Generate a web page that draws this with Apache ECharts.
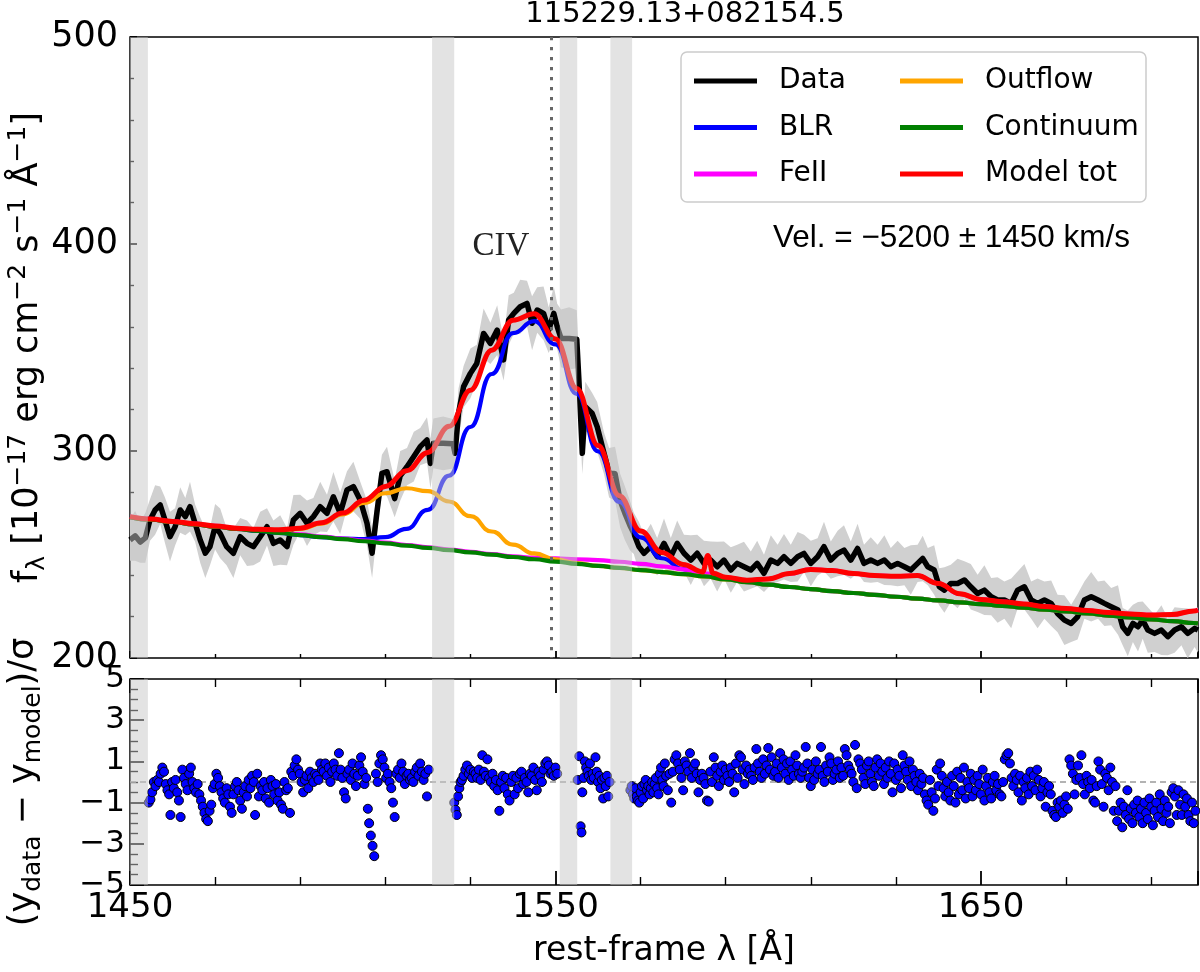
<!DOCTYPE html>
<html><head><meta charset="utf-8">
<script src="https://cdn.jsdelivr.net/npm/echarts@6/dist/echarts.min.js"></script>
<style>html,body{margin:0;padding:0;background:#fff}#c{width:1200px;height:972px}</style>
</head><body><div id="c"></div><script>
// ---------------- data ----------------
const xRange = [1450, 1701];
const xTickLabels = [1450, 1550, 1650];
const fluxRange = [200, 500];
const resRange = [-5, 5];
const maskBands = [[1450, 1454.2], [1521.0, 1526.2], [1551.0, 1555.1], [1562.9, 1568.0]];
const civLine = 1549.06;
const titleText = '115229.13+082154.5';
const velText = 'Vel. = \u22125200 \u00b1 1450 km/s';

// observed spectrum [wavelength, flux, error]
const specData = [
[1450.0,257,10],[1451.2,259,12],[1452.4,256,10],[1453.6,258,12],[1454.7,266.7,10],[1455.9,271.5,12],[1457.1,273.9,9],[1458.2,266.7,11],[1459.4,258.6,12],[1460.6,263.4,9],[1461.8,271.5,11],[1463.0,268.3,9],[1464.1,273.1,12],[1465.3,265.1,9],[1466.5,257.0,11],[1467.7,250.6,12],[1468.8,253.8,9],[1470.0,263.4,11],[1471.2,260.2,12],[1472.7,253.8,9],[1474.3,250.6,12],[1475.9,258.6,9],[1477.5,255.4,11],[1479.0,253.8,9],[1480.6,258.6,12],[1482.2,263.4,9],[1483.7,255.4,11],[1485.3,257.0,12],[1486.9,253.8,9],[1488.4,266.7,12],[1490.0,269.9,9],[1491.6,265.1,11],[1493.1,268.3,9],[1494.7,273.1,12],[1496.3,269.9,9],[1497.8,277.9,12],[1499.4,269.9,10],[1501.0,281.2,9],[1502.5,282.8,12],[1504.1,276.3,9],[1505.7,265.1,11],[1506.9,250.6,12],[1508.0,269.9,10],[1509.2,289.2,9],[1510.4,290.0,12],[1511.5,282,10],[1512.2,277,9],[1513.5,288.0,12],[1515.1,292.4,9],[1516.7,297.3,12],[1518.2,302.1,9],[1519.8,305.3,11],[1520.6,294,12],[1521.3,303.7,12],[1523.6,303.7,13],[1525.9,303.5,12],[1526.4,298.9,10],[1527.2,318.2,12],[1528.4,331.1,10],[1530.0,337.5,12],[1531.5,342.3,9],[1533.1,356.8,12],[1534.7,352.0,10],[1536.3,358.4,12],[1537.8,344.0,10],[1539.0,363.3,12],[1540.2,366.5,10],[1541.7,369.7,13],[1543.3,371.3,11],[1544.5,361.7,13],[1545.7,368.1,11],[1547.2,366.5,13],[1548.4,358.4,11],[1549.6,366.5,13],[1550.4,360.1,11],[1551.3,354.4,14],[1553.2,354.4,15],[1555.0,354.0,14],[1555.5,334.3,11],[1556.3,298.9,10],[1557.0,321.4,12],[1558.6,318.2,10],[1559.8,311.7,12],[1561.4,298.9,10],[1562.6,289.5,12],[1564.0,289.0,13],[1565.2,276.0,13],[1566.3,270.0,13],[1567.5,264.0,12],[1568.4,260.2,10],[1569.6,253.8,12],[1570.8,250.6,9],[1572.4,253.8,11],[1573.9,249.0,9],[1575.5,255.4,12],[1577.1,249.0,9],[1578.6,255.4,11],[1580.2,250.6,9],[1581.8,247.3,12],[1583.3,250.6,9],[1584.9,245.7,11],[1586.5,247.3,9],[1588.0,244.1,12],[1589.6,247.3,9],[1591.2,242.5,11],[1592.7,245.7,9],[1594.3,244.1,12],
[1595.9,242.5,9],[1597.4,245.7,11],[1599.0,240.9,9],[1600.6,247.3,12],[1602.2,245.7,9],[1603.7,248.9,11],[1605.3,245.7,9],[1606.9,248.9,12],[1608.4,250.5,9],[1610.0,245.7,11],[1611.6,248.9,9],[1613.1,253.8,12],[1614.7,247.3,9],[1616.3,250.5,11],[1617.8,252.1,12],[1619.4,247.3,9],[1621.0,252.9,12],[1622.5,245.7,9],[1624.1,247.3,11],[1625.7,245.7,9],[1627.3,247.3,12],[1628.8,244.1,9],[1630.4,245.7,11],[1632.0,244.1,9],[1633.5,242.5,12],[1635.1,245.7,9],[1636.3,248.1,11],[1637.5,244.1,9],[1639.0,242.5,12],[1640.2,234.4,9],[1641.4,232.8,11],[1642.9,236.0,9],[1644.5,236.0,12],[1646.1,237.7,9],[1647.6,234.4,11],[1649.2,231.2,9],[1650.8,232.8,12],[1652.4,229.6,9],[1653.9,228.0,11],[1655.5,228.0,9],[1657.1,226.4,12],[1658.6,232.8,9],[1660.2,234.4,11],[1661.8,228.0,9],[1663.3,226.4,12],[1664.9,228.0,9],[1666.5,226.4,11],[1668.0,221.5,9],[1669.6,218.3,12],[1671.2,216.7,9],[1672.7,219.9,11],[1674.3,228.0,9],[1675.9,229.6,12],[1677.5,228.0,9],[1679.0,226.4,11],[1680.6,224.8,9],[1682.2,223.2,12],[1683.3,215.1,9],[1684.5,211.9,11],[1685.7,216.7,9],[1686.9,215.1,12],[1688.0,218.3,9],[1689.2,213.5,11],[1690.8,211.9,9],[1692.4,213.5,12],[1693.9,210.3,9],[1695.5,213.5,11],[1697.1,215.1,9],[1698.6,211.9,12],[1700.2,214.3,9],[1701.0,213.5,11]
];

// model components sampled on modelWave
const modelWave = [1450,1455,1460,1465,1470,1475,1480,1485,1490,1495,1500,1505,1510,1515,1520,1525,1530,1535,1540,1545,1550,1555,1560,1565,1570,1575,1580,1585,1590,1595,1600,1605,1610,1615,1620,1625,1630,1635,1640,1645,1650,1655,1660,1665,1670,1675,1680,1685,1690,1695,1700,1701];
const contFlux = [268.0,266.8,265.7,264.6,263.5,262.4,261.4,260.4,259.4,258.4,257.4,256.4,255.4,254.3,253.2,252.1,251.0,249.9,248.8,247.7,246.6,245.5,244.5,243.5,242.5,241.5,240.5,239.4,238.0,236.6,235.4,234.3,233.3,232.3,231.4,230.5,229.6,228.7,227.8,226.9,226.0,225.2,224.3,223.4,222.5,221.5,220.5,219.6,218.7,217.8,216.9,216.7];
const blrFlux = [268.0,266.8,265.7,264.6,263.5,262.4,261.4,260.4,259.4,258.4,257.7,257.4,258.4,262.4,271.6,288.1,311.6,337.2,356.9,362.7,351.5,327.6,299.8,275.4,258.3,248.2,242.9,240.2,238.2,236.6,235.4,234.3,233.3,232.3,231.4,230.5,229.6,228.7,227.8,226.9,226.0,225.2,224.3,223.4,222.5,221.5,220.5,219.6,218.7,217.8,216.9,216.7];
const feFlux = [268.3,267.1,266.0,264.9,263.8,262.7,261.7,260.7,259.7,258.7,257.7,256.7,255.7,254.6,253.5,252.4,251.3,250.2,249.1,248.5,248.1,247.7,247.3,246.5,245.5,244.3,242.8,240.9,239.0,237.6,238.2,240.8,242.8,242.3,240.8,239.8,239.5,239.8,236.0,231.0,228.3,227.2,226.1,224.9,223.9,222.9,222.0,221.3,220.8,221.0,222.7,223.2];
const outFlux = [268.0,266.8,265.7,264.6,263.5,262.4,261.9,261.6,262.4,264.9,269.4,274.9,279.6,282.0,280.6,275.6,268.5,261.1,254.8,250.5,247.7,245.9,244.5,243.5,242.5,241.5,240.5,239.4,238.0,236.6,235.4,234.3,233.3,232.3,231.4,230.5,229.6,228.7,227.8,226.9,226.0,225.2,224.3,223.4,222.5,221.5,220.5,219.6,218.7,217.8,216.9,216.7];

// total model (own grid: includes the narrow feature near 1586)
const totWave = [1450,1455,1460,1465,1470,1475,1480,1485,1490,1495,1500,1505,1510,1515,1520,1525,1530,1535,1540,1545,1550,1555,1560,1565,1570,1575,1580,1584.6,1585.8,1587.0,1590,1595,1600,1605,1610,1615,1620,1625,1630,1635,1640,1645,1650,1655,1660,1665,1670,1675,1680,1685,1690,1695,1700,1701];
const totFlux = [268.3,267.1,266.0,264.9,263.8,262.7,262.2,261.9,262.7,265.3,270.0,276.2,282.9,290.4,299.3,311.9,329.4,348.7,363.2,366.3,354.1,330.2,302.6,278.4,261.3,251.0,245.2,241.6,249.5,241.0,239.0,237.6,238.2,240.8,242.8,242.3,240.8,239.8,239.5,239.8,236.0,231.0,228.3,227.2,226.1,224.9,223.9,222.9,222.0,221.3,220.8,221.0,222.7,223.2];

// normalised residuals [wavelength, (data-model)/sigma]
const residuals = [
[1454.4,-1.0],[1454.8,-0.85],[1455.2,-0.5],[1455.6,0.0],[1456.0,-0.2],[1456.4,0.1],[1456.8,0.0],[1457.2,0.4],[1457.6,0.7],[1458.0,0.5],[1458.4,-0.1],[1458.8,-0.4],[1459.2,-0.6],[1459.5,-1.6],[1459.9,0.0],[1460.3,-0.3],[1460.7,0.1],[1461.1,-0.5],[1461.5,-0.9],[1461.9,-1.7],[1462.3,0.6],[1462.7,0.2],[1463.1,-0.1],[1463.5,-0.4],[1463.9,0.4],[1464.3,0.7],[1464.7,0.0],[1465.1,-0.3],[1465.5,-0.5],[1465.9,-0.1],[1466.3,-0.6],[1466.7,-0.9],[1467.1,-1.2],[1467.5,-1.5],[1467.9,-1.8],[1468.3,-1.9],[1468.7,-1.4],[1469.1,-1.1],[1469.5,-0.3],[1469.9,-0.1],[1470.3,0.4],[1470.7,0.2],[1471.1,-0.2],[1471.5,-0.5],[1471.9,-0.8],[1472.3,-1.0],[1472.7,-0.3],[1473.1,-0.6],[1473.5,-1.2],[1473.9,-1.5],[1474.3,-0.6],[1474.7,-0.2],[1475.1,0.0],[1475.5,-0.4],[1475.9,-0.9],[1476.3,-1.3],[1476.7,-0.5],[1477.1,-0.2],[1477.5,-0.7],[1477.9,0.1],[1478.3,-0.3],[1478.7,0.3],[1479.1,0.0],[1479.4,-1.6],[1479.9,0.4],[1480.3,-0.7],[1480.7,-0.2],[1481.1,-0.4],[1481.5,0.0],[1481.9,-0.8],[1482.3,-0.3],[1482.7,-1.0],[1483.1,0.1],[1483.5,-0.2],[1483.9,-0.6],[1484.3,-0.1],[1484.7,-0.9],[1485.1,-0.5],[1485.5,-1.1],[1485.9,-1.3],[1486.3,0.0],[1486.7,-0.4],[1487.1,-0.3],[1487.6,-1.5],[1487.9,0.5],[1488.3,0.3],[1488.7,0.8],[1489.1,1.1],[1489.5,0.6],[1489.9,0.4],[1490.3,0.0],[1490.7,-0.5],[1491.1,0.1],[1491.5,0.3],[1491.9,-0.3],[1492.3,0.5],[1492.7,0.2],[1493.1,0.0],[1493.5,0.4],[1493.9,0.3],[1494.3,0.1],[1494.7,0.9],[1495.1,0.6],[1495.5,0.5],[1495.9,0.9],[1496.3,0.3],[1496.7,0.7],[1497.1,0.0],[1497.5,0.5],[1497.9,0.9],[1498.3,0.6],[1498.7,0.3],[1499.1,1.4],[1499.5,0.6],[1499.9,0.2],[1500.3,-0.5],[1500.7,-0.8],[1501.1,0.4],[1501.5,0.6],[1501.9,0.1],[1502.3,0.9],[1502.7,0.4],[1503.1,-0.2],[1503.5,0.3],[1503.9,0.8],[1504.3,1.2],[1504.7,0.5],[1505.1,-0.1],[1505.5,0.2],[1505.9,-1.3],[1506.2,-2.0],[1506.6,-2.6],[1507.0,-3.1],[1507.4,-3.6],[1507.8,0.4],[1508.2,0.0],[1508.6,0.9],[1509.0,1.3],[1509.4,1.1],[1509.8,0.7],[1510.2,0.2],[1510.6,0.4],[1511.0,0.0],[1511.4,-0.3],[1511.8,-1.0],[1512.2,-1.7],[1512.6,0.4],[1513.0,0.6],[1513.4,0.2],[1513.8,0.9],[1514.2,0.5],[1514.6,-0.1],[1515.0,0.3],[1515.4,0.4],[1515.8,0.1],[1516.2,0.2],[1516.6,0.0],[1517.0,0.5],[1517.4,0.7],[1517.8,0.3],[1518.2,0.9],[1518.6,0.5],[1519.0,0.1],[1519.4,0.4],[1519.8,-0.7],[1520.2,0.6],
[1526.2,-1.0],[1526.5,-1.35],[1526.8,-1.6],[1527.1,-0.7],[1527.4,-0.3],[1527.7,0.0],[1528.0,0.1],[1528.4,0.3],[1528.8,0.6],[1529.2,0.8],[1529.6,0.4],[1530.0,0.6],[1530.4,0.2],[1530.8,0.5],[1531.2,0.4],[1531.6,0.2],[1532.0,0.6],[1532.4,0.1],[1532.8,1.3],[1533.2,0.5],[1533.6,0.3],[1534.0,1.1],[1534.4,0.2],[1534.8,0.0],[1535.2,0.4],[1535.6,-0.2],[1536.0,0.1],[1536.4,-0.4],[1536.8,-1.4],[1537.2,0.0],[1537.6,0.3],[1538.0,-0.3],[1538.4,0.2],[1538.8,-0.6],[1539.2,-0.9],[1539.6,0.0],[1540.0,0.3],[1540.4,-0.6],[1540.8,0.2],[1541.2,-0.3],[1541.6,0.4],[1542.0,0.5],[1542.4,-0.1],[1542.8,0.2],[1543.2,0.0],[1543.6,-0.5],[1544.0,0.4],[1544.4,0.3],[1544.8,0.7],[1545.2,0.1],[1545.6,-0.4],[1546.0,0.5],[1546.4,0.3],[1546.8,0.0],[1547.2,0.6],[1547.6,0.9],[1548.0,1.0],[1548.4,0.8],[1548.8,0.4],[1549.2,0.5],[1549.6,0.3],[1550.0,0.7],[1550.4,0.4],
[1555.2,0.1],[1555.6,1.25],[1555.9,-2.15],[1556.1,-2.45],[1556.3,-0.5],[1556.6,0.2],[1556.9,1.0],[1557.2,0.7],[1557.5,0.5],[1557.8,0.3],[1558.1,0.9],[1558.4,0.1],[1558.7,0.4],[1559.0,0.2],[1559.4,1.2],[1559.7,0.5],[1560.0,0.0],[1560.3,0.3],[1560.6,-0.3],[1560.9,0.1],[1561.2,-0.8],[1561.5,0.2],[1561.8,-0.2],[1562.1,0.3],[1562.4,-0.7],[1562.7,0.0],
[1567.6,-0.4],[1567.9,-0.2],[1568.2,-0.6],[1568.5,-0.8],[1568.8,-0.3],[1569.1,-0.7],[1569.4,-0.9],[1569.7,-1.0],[1570.0,-0.5],[1570.3,-0.2],[1570.6,-0.8],[1570.9,-0.1],[1571.2,0.1],[1571.5,-0.4],[1571.8,-0.2],[1572.1,-0.6],[1572.4,-0.3],[1572.7,0.0],[1573.0,-0.5],[1573.3,-0.1],[1573.6,0.2],[1573.9,-0.3],[1574.2,-0.6],[1574.5,0.4],[1574.8,0.7],[1575.1,0.1],[1575.4,-0.2],[1575.7,0.9],[1576.0,0.3],[1576.4,-0.4],[1576.8,0.4],[1577.2,-1.0],[1577.6,0.5],[1578.0,1.1],[1578.4,1.3],[1578.8,0.9],[1579.2,0.6],[1579.6,0.2],[1580.0,-0.4],[1580.4,1.0],[1580.8,0.8],[1581.2,0.5],[1581.6,1.4],[1582.0,0.2],[1582.4,0.7],[1582.8,0.9],[1583.2,0.4],[1583.6,-0.5],[1584.0,0.1],[1584.4,0.4],[1584.8,0.2],[1585.2,-0.1],[1585.6,-0.9],[1586.0,-0.95],[1586.4,0.5],[1586.8,0.0],[1587.2,1.2],[1587.6,0.7],[1588.0,0.3],[1588.4,-0.2],[1588.8,0.5],[1589.2,0.8],[1589.6,0.1],[1590.0,0.6],[1590.4,0.3],[1590.8,0.0],[1591.2,0.7],[1591.6,0.4],[1592.0,-0.5],[1592.4,0.9],[1592.8,0.2],[1593.2,1.3],[1593.6,1.2],[1594.0,0.6],[1594.4,-0.1],[1594.8,0.8],[1595.2,0.4],[1595.6,0.6],[1596.0,0.3],[1596.4,0.1],[1596.8,0.7],[1597.2,1.6],[1597.6,0.9],[1598.0,0.5],[1598.4,0.2],[1598.8,1.1],[1599.2,0.4],[1599.6,0.8],[1600.0,1.65],[1600.4,0.6],[1600.8,1.2],[1601.2,0.3],[1601.6,0.5],[1602.0,0.9],[1602.4,0.2],[1602.8,1.4],[1603.2,0.7],[1603.6,1.1],[1604.0,0.4],[1604.4,0.9],[1604.8,0.1],[1605.2,1.0],[1605.6,0.6],[1606.0,0.3],[1606.4,1.3],[1606.8,0.8],[1607.2,0.4],[1607.6,0.2],[1608.0,0.5],[1608.4,0.7],[1608.8,1.7],[1609.2,0.9],[1609.6,0.2],[1610.0,-0.2],[1610.4,0.6],[1610.8,0.1],[1611.2,1.0],[1611.6,0.4],[1612.0,0.6],[1612.4,1.7],[1612.8,0.3],[1613.2,0.0],[1613.6,0.8],[1614.0,0.5],[1614.4,1.2],[1614.8,0.9],[1615.2,0.1],[1615.6,0.4],[1616.0,0.6],[1616.4,1.0],[1616.8,0.2],[1617.2,0.7],[1617.6,0.3],
[1618.0,1.6],[1618.4,1.3],[1618.8,0.8],[1619.2,0.6],[1619.6,0.4],[1620.0,0.0],[1620.4,1.8],[1620.8,-0.3],[1621.2,1.1],[1621.6,0.9],[1622.0,0.6],[1622.4,0.2],[1622.8,-0.1],[1623.2,0.8],[1623.6,1.0],[1624.0,0.4],[1624.4,0.0],[1624.8,-0.2],[1625.2,0.7],[1625.6,1.1],[1626.0,0.3],[1626.4,0.9],[1626.8,0.5],[1627.2,-0.1],[1627.6,0.7],[1628.0,0.2],[1628.4,1.0],[1628.8,0.4],[1629.2,-0.5],[1629.6,0.9],[1630.0,0.1],[1630.4,0.6],[1630.8,0.3],[1631.2,-0.3],[1631.6,1.3],[1632.0,0.8],[1632.4,0.5],[1632.8,0.1],[1633.2,1.0],[1633.6,-0.2],[1634.0,0.6],[1634.4,0.3],[1634.8,0.0],[1635.2,-0.4],[1635.6,0.4],[1636.0,-0.1],[1636.4,0.2],[1636.8,-0.6],[1637.2,-0.9],[1637.6,-1.1],[1638.0,0.1],[1638.4,-0.5],[1638.8,-1.4],[1639.2,-0.8],[1639.6,0.6],[1640.0,-0.2],[1640.4,0.9],[1640.8,0.3],[1641.2,-0.3],[1641.6,-0.7],[1642.0,0.0],[1642.4,-0.5],[1642.8,-0.9],[1643.2,0.3],[1643.6,-0.2],[1644.0,-1.0],[1644.4,0.5],[1644.8,-0.6],[1645.2,0.2],[1645.6,-0.4],[1646.0,0.7],[1646.4,-0.8],[1646.8,0.0],[1647.2,-0.3],[1647.6,0.4],[1648.0,-0.7],[1648.4,0.1],[1648.8,-0.4],[1649.2,0.3],[1649.6,-0.1],[1650.0,-0.6],[1650.4,0.6],[1650.8,-0.9],[1651.2,-0.2],[1651.6,0.2],[1652.0,-0.5],[1652.4,-0.8],[1652.8,0.0],[1653.2,0.3],[1653.6,-0.4],[1654.0,-0.1],[1654.4,-0.6],[1654.8,-0.7],[1655.2,0.0],[1655.6,1.1],[1656.0,1.3],[1656.4,1.4],[1656.8,0.9],[1657.2,0.2],[1657.6,-0.2],[1658.0,0.4],[1658.4,0.1],[1658.8,-0.5],[1659.2,0.3],[1659.6,-0.9],[1660.0,0.0],[1660.4,-0.3],[1660.8,0.2],[1661.2,-0.6],[1661.6,0.5],[1662.0,-0.2],[1662.4,0.3],[1662.8,-0.4],[1663.2,0.6],[1663.6,0.1],[1664.0,-0.7],[1664.4,-0.3],[1664.8,0.0],[1665.2,-1.2],[1665.6,-0.5],[1666.0,-0.2],[1666.4,-0.6],[1666.8,-1.4],[1667.2,-1.6],[1667.6,-1.7],[1668.0,-1.0],[1668.4,-1.2],[1668.8,-0.9],[1669.2,-1.5],[1669.6,-1.1],[1670.0,-0.7],[1670.4,-1.3],[1670.8,1.1],[1671.2,0.8],[1671.6,0.4],[1672.0,-0.6],[1672.4,0.1],[1672.8,0.8],[1673.2,0.2],[1673.6,1.3],[1674.0,-0.1],[1674.4,-0.6],[1674.8,0.3],[1675.2,0.0],[1675.6,-0.3],[1676.0,0.1],[1676.4,-0.9],[1676.8,-1.0],[1677.2,-0.2],[1677.6,1.0],[1678.0,0.6],[1678.4,-0.1],[1678.8,-1.2],[1679.2,0.4],[1679.6,0.2],[1680.0,-0.4],[1680.4,0.7],[1680.8,0.0],[1681.2,-1.4],[1681.6,-0.2],[1682.0,-1.9],[1682.4,-1.4],[1682.8,-1.0],[1683.2,-2.2],[1683.6,-1.2],[1684.0,-1.6],[1684.4,-0.4],[1684.8,-1.8],[1685.2,-1.3],[1685.6,-2.0],[1686.0,-1.1],[1686.4,-1.5],[1686.8,-0.9],[1687.2,-1.7],[1687.6,-1.3],[1688.0,-2.0],[1688.4,-1.0],[1688.8,-1.5],[1689.2,-1.8],[1689.6,-0.8],[1690.0,-1.2],[1690.4,-2.1],[1690.8,-1.4],[1691.2,-1.0],[1691.6,-1.7],[1692.0,-0.6],[1692.4,-1.3],[1692.8,-1.9],[1693.2,-0.9],[1693.6,-1.5],[1694.0,-1.2],[1694.4,-2.0],[1694.8,-0.5],[1695.2,-0.3],[1695.6,-0.7],[1696.0,-1.6],[1696.4,-0.4],[1696.8,-1.1],[1697.2,-1.6],[1697.6,-0.6],[1698.0,-1.2],[1698.4,-0.8],[1698.8,-1.6],[1699.2,-1.9],[1699.6,-1.0],[1700.0,-2.0],[1700.4,-1.4]
];

// ---------------- chart ----------------
const FONT = 'DejaVu Sans';
const bandFill = 'rgba(200,200,200,0.5)';
const pair = (w, f) => w.map((x, i) => [x, f[i]]);

function xAxis(grid, pos, labels, major, minor) {
  return {
    type: 'value', gridIndex: grid, position: pos, min: xRange[0], max: xRange[1], interval: 100,
    axisLine: {show: false, onZero: false}, splitLine: {show: false},
    axisTick: {show: true, inside: true, length: major, lineStyle: {color: '#000', width: 1.8}},
    minorTick: {show: true, splitNumber: 5, length: minor, lineStyle: {color: '#000', width: 1.4}},
    axisLabel: {show: labels, color: '#000', fontFamily: FONT, fontSize: 34, margin: 6,
      formatter: v => xTickLabels.indexOf(v) >= 0 ? String(v) : ''}
  };
}

function bandRender(yr, withLine) {
  return function (params, api) {
    const kids = maskBands.map(b => {
      const a = api.coord([b[0], yr[1]]), c = api.coord([b[1], yr[0]]);
      return {type: 'rect', shape: {x: a[0], y: a[1], width: c[0] - a[0], height: c[1] - a[1]}, style: {fill: bandFill}};
    });
    if (withLine) {
      const t = api.coord([civLine, yr[1]]), b = api.coord([civLine, yr[0]]);
      kids.push({type: 'line', shape: {x1: t[0], y1: t[1], x2: b[0], y2: b[1]},
        style: {stroke: '#666666', lineWidth: 3, lineDash: [3.3, 6.7]}});
    }
    return {type: 'group', children: kids};
  };
}

const lineSeries = (name, w, f, color, width, z, smooth) => ({
  name, type: 'line', xAxisIndex: 0, yAxisIndex: 0, data: pair(w, f), color,
  symbol: 'none', showSymbol: false, smooth: smooth, smoothMonotone: 'x', z,
  lineStyle: {color, width, join: 'round'}, silent: true
});

const richY = {
  t: {fontSize: 35, lineHeight: 44, color: '#000', fontFamily: FONT},
  sup: {fontSize: 25, lineHeight: 16, verticalAlign: 'top', color: '#000', fontFamily: FONT},
  sub: {fontSize: 25, lineHeight: 16, verticalAlign: 'bottom', color: '#000', fontFamily: FONT}
};

const option = {
  animation: false,
  backgroundColor: '#fff',
  textStyle: {fontFamily: FONT},
  grid: [
    {left: 130, right: 2, top: 37, height: 621, show: true, borderColor: '#000', borderWidth: 1.5,
     backgroundColor: 'transparent', containLabel: false, outerBoundsMode: 'none'},
    {left: 130, right: 2, top: 679, height: 206, show: true, borderColor: '#000', borderWidth: 1.5,
     backgroundColor: 'transparent', containLabel: false, outerBoundsMode: 'none'}
  ],
  xAxis: [
    xAxis(0, 'bottom', false, 7, 4),
    Object.assign(xAxis(1, 'bottom', true, 14, 8), {
      name: 'rest-frame \u03bb [\u00c5]', nameLocation: 'middle', nameGap: 50, nameMoveOverlap: false,
      nameTextStyle: {fontSize: 33, color: '#000', fontFamily: FONT}
    }),
    xAxis(1, 'top', false, 14, 8)
  ],
  yAxis: [
    {
      type: 'value', gridIndex: 0, min: fluxRange[0], max: fluxRange[1], interval: 100,
      axisLine: {show: false, onZero: false}, splitLine: {show: false},
      axisTick: {show: true, inside: true, length: 7, lineStyle: {color: '#000', width: 1.8}},
      minorTick: {show: true, splitNumber: 5, length: 4, lineStyle: {color: '#000', width: 1.4}},
      axisLabel: {color: '#000', fontFamily: FONT, fontSize: 35, margin: 12},
      name: '{t|f}{sub|\u03bb}{t| [10}{sup|\u221217}{t| erg cm}{sup|\u22122}{t| s}{sup|\u22121}{t| \u00c5}{sup|\u22121}{t|]}',
      nameLocation: 'middle', nameRotate: 90, nameGap: 80, nameMoveOverlap: false,
      nameTextStyle: {color: '#000', fontFamily: FONT, fontSize: 35, rich: richY}
    },
    {
      type: 'value', gridIndex: 1, min: resRange[0], max: resRange[1], interval: 2,
      axisLine: {show: false, onZero: false}, splitLine: {show: false},
      axisTick: {show: true, inside: true, length: 14, lineStyle: {color: '#000', width: 1.8}},
      minorTick: {show: true, splitNumber: 4, length: 8, lineStyle: {color: '#000', width: 1.4}},
      axisLabel: {color: '#000', fontFamily: FONT, fontSize: 31, margin: 5,
        formatter: v => (v < 0 ? '\u2212' : '') + Math.abs(v)},
      name: '{t|(y}{sub|data}{t| \u2212 y}{sub|model}{t|)/\u03c3}',
      nameLocation: 'middle', nameRotate: 90, nameGap: 84, nameMoveOverlap: false,
      nameTextStyle: {color: '#000', fontFamily: FONT, fontSize: 35, rich: richY}
    }
  ],
  legend: [
    {data: ['Data', 'BLR', 'FeII'], left: 689, top: 61, orient: 'vertical', itemGap: 16.5,
     itemWidth: 63, itemHeight: 5, icon: 'rect', selectedMode: false, z: 12,
     textStyle: {fontSize: 28, color: '#000', fontFamily: FONT, lineHeight: 30, padding: [0, 0, 0, 17]}},
    {data: ['Outflow', 'Continuum', 'Model tot'], left: 895, top: 61, orient: 'vertical', itemGap: 16.5,
     itemWidth: 63, itemHeight: 5, icon: 'rect', selectedMode: false, z: 12,
     textStyle: {fontSize: 28, color: '#000', fontFamily: FONT, lineHeight: 30, padding: [0, 0, 0, 17]}}
  ],
  graphic: [
    {type: 'text', x: 685, y: 14, z: 20, silent: true,
     style: {text: titleText, fontSize: 29, fontFamily: FONT, fill: '#000',
       align: 'center', verticalAlign: 'middle', textAlign: 'center', textVerticalAlign: 'middle'}},
    {type: 'rect', z: 11, silent: true, shape: {x: 681, y: 52, width: 465, height: 150, r: 6},
     style: {fill: 'rgba(255,255,255,0.8)', stroke: '#cccccc', lineWidth: 1.5}},
    {type: 'text', x: 773, y: 238, z: 20, silent: true,
     style: {text: velText, fontSize: 31.5, fontFamily: 'Liberation Sans', fill: '#000',
       align: 'left', verticalAlign: 'middle', textAlign: 'left', textVerticalAlign: 'middle'}},
    {type: 'text', x: 501, y: 246, z: 20, silent: true,
     style: {text: 'CIV', fontSize: 33, fontFamily: 'Liberation Serif', fill: '#222',
       align: 'center', verticalAlign: 'middle', textAlign: 'center', textVerticalAlign: 'middle'}}
  ],
  series: [
    {type: 'custom', xAxisIndex: 0, yAxisIndex: 0, z: 1, silent: true, data: [[1500, 300]],
     renderItem: function (params, api) {
       const up = specData.map(d => api.coord([d[0], d[1] + d[2]]));
       const lo = specData.map(d => api.coord([d[0], d[1] - d[2]])).reverse();
       return {type: 'polygon', shape: {points: up.concat(lo)}, style: {fill: '#d0d0d0'}};
     }},
    lineSeries('Data', specData.map(d => d[0]), specData.map(d => d[1]), '#000000', 5.5, 2, false),
    lineSeries('BLR', modelWave, blrFlux, '#0000ff', 4.2, 3, 0.5),
    lineSeries('FeII', modelWave, feFlux, '#ff00ff', 4.2, 4, 0.5),
    lineSeries('Outflow', modelWave, outFlux, '#ffa500', 4.2, 5, 0.5),
    lineSeries('Continuum', modelWave, contFlux, '#008000', 4.2, 6, 0.5),
    lineSeries('Model tot', totWave, totFlux, '#ff0000', 5, 7, 0.4),
    {type: 'custom', xAxisIndex: 0, yAxisIndex: 0, z: 8, silent: true, data: [[1500, 300]],
     renderItem: bandRender(fluxRange, true)},
    {type: 'custom', xAxisIndex: 1, yAxisIndex: 1, z: 2, silent: true, data: [[1500, 0]],
     renderItem: function (params, api) {
       const a = api.coord([xRange[0], 0]), b = api.coord([xRange[1], 0]);
       return {type: 'line', shape: {x1: a[0], y1: a[1], x2: b[0], y2: b[1]},
         style: {stroke: '#9a9a9a', lineWidth: 1.5, lineDash: [6, 4]}};
     }},
    {type: 'scatter', xAxisIndex: 1, yAxisIndex: 1, z: 3, silent: true, data: residuals,
     symbol: 'circle', symbolSize: 9,
     itemStyle: {color: '#0000ff', borderColor: '#000', borderWidth: 1, opacity: 1}},
    {type: 'custom', xAxisIndex: 1, yAxisIndex: 1, z: 8, silent: true, data: [[1500, 0]],
     renderItem: bandRender(resRange, false)}
  ]
};

const chart = echarts.init(document.getElementById('c'));
chart.setOption(option);
</script></body></html>
